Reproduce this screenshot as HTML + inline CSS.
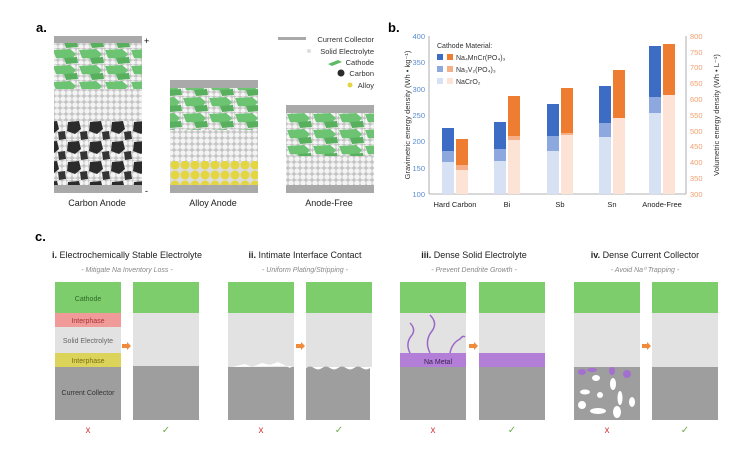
<!DOCTYPE html>
<html><head><meta charset="utf-8"><style>
html,body{margin:0;padding:0;background:#fff;}
svg{display:block;font-family:"Liberation Sans",Arial,sans-serif;}
</style></head><body>
<svg width="754" height="451" viewBox="0 0 754 451" xmlns="http://www.w3.org/2000/svg">
<defs>
<pattern id="balls" width="6" height="6" patternUnits="userSpaceOnUse">
<rect width="6" height="6" fill="#c4c4c4"/>
<circle cx="3" cy="3" r="2.8" fill="#f4f4f4" stroke="#c9c9c9" stroke-width="0.4"/>
</pattern>
<pattern id="carbon" width="22" height="20" patternUnits="userSpaceOnUse">
<rect width="22" height="20" fill="url(#balls)"/>
<polygon points="2,2 13,1 15,9 9,14 1,11" fill="#2b2b2b"/>
<polygon points="14,12 21,11 22,19 15,20" fill="#333"/>
</pattern>
<pattern id="alloy" width="10" height="10" patternUnits="userSpaceOnUse">
<rect width="10" height="10" fill="#dcdcdc"/>
<circle cx="5" cy="5" r="4.5" fill="#e4d640"/>
</pattern>
<pattern id="cath" width="26" height="16" patternUnits="userSpaceOnUse">
<rect width="26" height="16" fill="url(#balls)"/>
<polygon points="1,2 18,1 24,6 20,11 4,10" fill="#6cc472"/>
<polygon points="12,10 25,9 26,15 14,16" fill="#58b05e"/>
</pattern>
</defs>

<text x="36" y="32" font-size="13" font-weight="bold">a.</text>
<rect x="54" y="36" width="88" height="7" fill="#a9a9a9"/>
<rect x="54" y="43" width="88" height="46" fill="url(#cath)"/>
<rect x="54" y="89" width="88" height="32" fill="url(#balls)"/>
<rect x="54" y="121" width="88" height="64" fill="url(#carbon)"/>
<rect x="54" y="185" width="88" height="8" fill="#a9a9a9"/>
<text x="144" y="44" font-size="9">+</text>
<text x="145" y="194" font-size="9">-</text>
<text x="97" y="206" font-size="9" text-anchor="middle" fill="#222">Carbon Anode</text>

<rect x="170" y="80" width="88" height="8" fill="#a9a9a9"/>
<rect x="170" y="88" width="88" height="42" fill="url(#cath)"/>
<rect x="170" y="130" width="88" height="31" fill="url(#balls)"/>
<rect x="170" y="161" width="88" height="24" fill="url(#alloy)"/>
<rect x="170" y="185" width="88" height="8" fill="#a9a9a9"/>
<text x="213" y="206" font-size="9" text-anchor="middle" fill="#222">Alloy Anode</text>

<rect x="286" y="105" width="88" height="8" fill="#a9a9a9"/>
<rect x="286" y="113" width="88" height="43" fill="url(#cath)"/>
<rect x="286" y="156" width="88" height="29" fill="url(#balls)"/>
<rect x="286" y="185" width="88" height="8" fill="#a9a9a9"/>
<text x="329" y="206" font-size="9" text-anchor="middle" fill="#222">Anode-Free</text>

<g font-size="7.5" fill="#333" text-anchor="end">
<rect x="278" y="37" width="28" height="3" fill="#a9a9a9"/>
<text x="374" y="42">Current Collector</text>
<circle cx="309" cy="51" r="2" fill="#ddd"/>
<text x="374" y="54">Solid Electrolyte</text>
<polygon points="328,64 338,60 342,62 332,66" fill="#5dbb63"/>
<text x="374" y="65">Cathode</text>
<circle cx="341" cy="73" r="3.5" fill="#2b2b2b"/>
<text x="374" y="76">Carbon</text>
<circle cx="350" cy="85" r="2.5" fill="#e4d640"/>
<text x="374" y="88">Alloy</text>
</g>

<text x="388" y="32" font-size="13" font-weight="bold">b.</text>
<line x1="429" y1="36" x2="429" y2="194" stroke="#999" stroke-width="0.8"/>
<line x1="686" y1="36" x2="686" y2="194" stroke="#999" stroke-width="0.8"/>
<line x1="429" y1="194" x2="686" y2="194" stroke="#999" stroke-width="0.8"/>
<g font-size="7.5" fill="#5a8bd0" text-anchor="end">
<text x="425" y="197">100</text><text x="425" y="171">150</text><text x="425" y="144">200</text>
<text x="425" y="118">250</text><text x="425" y="92">300</text><text x="425" y="65">350</text><text x="425" y="39">400</text>
</g>
<g font-size="7.5" fill="#f0a070">
<text x="690" y="197">300</text><text x="690" y="181">350</text><text x="690" y="165">400</text>
<text x="690" y="149">450</text><text x="690" y="134">500</text><text x="690" y="118">550</text>
<text x="690" y="102">600</text><text x="690" y="86">650</text><text x="690" y="70">700</text>
<text x="690" y="55">750</text><text x="690" y="39">800</text>
</g>
<text transform="translate(410,115) rotate(-90)" font-size="7.5" text-anchor="middle" fill="#333">Gravimetric energy density (Wh • kg⁻¹)</text>
<text transform="translate(719,115) rotate(-90)" font-size="7.5" text-anchor="middle" fill="#333">Volumetric energy density (Wh • L⁻¹)</text>
<g font-size="7.5" fill="#222" text-anchor="middle">
<text x="455" y="207">Hard Carbon</text><text x="507" y="207">Bi</text><text x="560" y="207">Sb</text>
<text x="612" y="207">Sn</text><text x="662" y="207">Anode-Free</text>
</g>
<g>
<rect x="442" y="128" width="12" height="23" fill="#3d6cc4"/><rect x="442" y="151" width="12" height="11" fill="#8ca8de"/><rect x="442" y="162" width="12" height="32" fill="#d6e1f3"/>
<rect x="456" y="139" width="12" height="26" fill="#ef7d31"/><rect x="456" y="165" width="12" height="5" fill="#f5b08a"/><rect x="456" y="170" width="12" height="24" fill="#fce3d5"/>
<rect x="494" y="122" width="12" height="27" fill="#3d6cc4"/><rect x="494" y="149" width="12" height="12" fill="#8ca8de"/><rect x="494" y="161" width="12" height="33" fill="#d6e1f3"/>
<rect x="508" y="96" width="12" height="40" fill="#ef7d31"/><rect x="508" y="136" width="12" height="4" fill="#f5b08a"/><rect x="508" y="140" width="12" height="54" fill="#fce3d5"/>
<rect x="547" y="104" width="12" height="32" fill="#3d6cc4"/><rect x="547" y="136" width="12" height="15" fill="#8ca8de"/><rect x="547" y="151" width="12" height="43" fill="#d6e1f3"/>
<rect x="561" y="88" width="12" height="45" fill="#ef7d31"/><rect x="561" y="133" width="12" height="2" fill="#f5b08a"/><rect x="561" y="135" width="12" height="59" fill="#fce3d5"/>
<rect x="599" y="86" width="12" height="37" fill="#3d6cc4"/><rect x="599" y="123" width="12" height="14" fill="#8ca8de"/><rect x="599" y="137" width="12" height="57" fill="#d6e1f3"/>
<rect x="613" y="70" width="12" height="48" fill="#ef7d31"/><rect x="613" y="118" width="12" height="76" fill="#fce3d5"/>
<rect x="649" y="46" width="12" height="51" fill="#3d6cc4"/><rect x="649" y="97" width="12" height="16" fill="#8ca8de"/><rect x="649" y="113" width="12" height="81" fill="#d6e1f3"/>
<rect x="663" y="44" width="12" height="51" fill="#ef7d31"/><rect x="663" y="95" width="12" height="99" fill="#fce3d5"/>
</g>
<g font-size="7" fill="#333">
<text x="437" y="48">Cathode Material:</text>
<rect x="437" y="54" width="6" height="6" fill="#3d6cc4"/><rect x="447" y="54" width="6" height="6" fill="#ef7d31"/><text x="456" y="60">Na₄MnCr(PO₄)₃</text>
<rect x="437" y="66" width="6" height="6" fill="#8ca8de"/><rect x="447" y="66" width="6" height="6" fill="#f5b08a"/><text x="456" y="72">Na₃V₂(PO₄)₃</text>
<rect x="437" y="78" width="6" height="6" fill="#d6e1f3"/><rect x="447" y="78" width="6" height="6" fill="#fce3d5"/><text x="456" y="84">NaCrO₂</text>
</g>

<text x="35" y="241" font-size="13" font-weight="bold">c.</text>
<g font-size="9" fill="#222" text-anchor="middle">
<text x="127" y="258"><tspan font-weight="bold">i.</tspan> Electrochemically Stable Electrolyte</text>
<text x="305" y="258"><tspan font-weight="bold">ii.</tspan> Intimate Interface Contact</text>
<text x="474" y="258"><tspan font-weight="bold">iii.</tspan> Dense Solid Electrolyte</text>
<text x="645" y="258"><tspan font-weight="bold">iv.</tspan> Dense Current Collector</text>
</g>
<g font-size="7" fill="#888" font-style="italic" text-anchor="middle">
<text x="127" y="272">- Mitigate Na Inventory Loss -</text>
<text x="305" y="272">- Uniform Plating/Stripping -</text>
<text x="474" y="272">- Prevent Dendrite Growth -</text>
<text x="645" y="272">- Avoid Na⁰ Trapping -</text>
</g>
<g>
<rect x="55" y="282" width="66" height="31" fill="#7dcd6c"/>
<rect x="55" y="313" width="66" height="14" fill="#f19a9a"/>
<rect x="55" y="327" width="66" height="26" fill="#e2e2e2"/>
<rect x="55" y="353" width="66" height="14" fill="#dcd45a"/>
<rect x="55" y="367" width="66" height="53" fill="#9e9e9e"/>
<g font-size="7" text-anchor="middle">
<text x="88" y="301" fill="#2f6b2a">Cathode</text>
<text x="88" y="323" fill="#a33">Interphase</text>
<text x="88" y="343" fill="#666">Solid Electrolyte</text>
<text x="88" y="363" fill="#776f10">Interphase</text>
<text x="88" y="395" fill="#333">Current Collector</text>
</g>
<rect x="133" y="282" width="66" height="31" fill="#7dcd6c"/>
<rect x="133" y="313" width="66" height="53" fill="#e2e2e2"/>
<rect x="133" y="366" width="66" height="54" fill="#9e9e9e"/>
<rect x="228" y="282" width="66" height="31" fill="#7dcd6c"/>
<rect x="228" y="313" width="66" height="54" fill="#e2e2e2"/>
<rect x="228" y="367" width="66" height="53" fill="#9e9e9e"/>
<polygon points="232,367 245,364 252,367 262,363 270,365 278,362 290,368 292,366" fill="#fff"/>
<rect x="306" y="282" width="66" height="31" fill="#7dcd6c"/>
<rect x="306" y="313" width="66" height="54" fill="#e2e2e2"/>
<path d="M306,368 q4,-3 8,0 t8,0 t8,0 t8,0 t8,0 t8,0 t8,0 t8,0 V420 H306 Z" fill="#9e9e9e"/>
<rect x="400" y="282" width="66" height="31" fill="#7dcd6c"/>
<rect x="400" y="313" width="66" height="40" fill="#e2e2e2"/>
<rect x="400" y="353" width="66" height="14" fill="#b27ed8"/>
<rect x="400" y="367" width="66" height="53" fill="#9e9e9e"/>
<g stroke="#9d67c8" stroke-width="1.5" fill="none">
<path d="M410,353 q-5,-10 2,-18 q4,-6 -2,-12"/>
<path d="M430,353 q-6,-12 2,-22 q6,-8 -2,-16"/>
<path d="M450,353 q2,-10 10,-14 q3,-4 5,-2"/>
</g>
<text x="424" y="364" font-size="7" fill="#3a2250">Na Metal</text>
<rect x="479" y="282" width="66" height="31" fill="#7dcd6c"/>
<rect x="479" y="313" width="66" height="40" fill="#e2e2e2"/>
<rect x="479" y="353" width="66" height="14" fill="#b27ed8"/>
<rect x="479" y="367" width="66" height="53" fill="#9e9e9e"/>
<rect x="574" y="282" width="66" height="31" fill="#7dcd6c"/>
<rect x="574" y="313" width="66" height="54" fill="#e2e2e2"/>
<rect x="574" y="367" width="66" height="53" fill="#9e9e9e"/>
<g fill="#fff">
<ellipse cx="596" cy="378" rx="4" ry="3"/><ellipse cx="613" cy="384" rx="3" ry="6"/>
<ellipse cx="585" cy="392" rx="5" ry="2.5"/><ellipse cx="600" cy="395" rx="3" ry="3"/>
<ellipse cx="620" cy="398" rx="2.5" ry="7"/><ellipse cx="582" cy="405" rx="4" ry="4"/>
<ellipse cx="598" cy="411" rx="8" ry="3"/><ellipse cx="617" cy="412" rx="4" ry="6"/><ellipse cx="632" cy="402" rx="3" ry="5"/>
</g>
<g fill="#a36fd0">
<ellipse cx="582" cy="372" rx="4" ry="3"/><ellipse cx="592" cy="370" rx="5" ry="2"/>
<ellipse cx="612" cy="371" rx="3" ry="4"/><ellipse cx="627" cy="374" rx="4" ry="4"/>
</g>
<rect x="652" y="282" width="66" height="31" fill="#7dcd6c"/>
<rect x="652" y="313" width="66" height="54" fill="#e2e2e2"/>
<rect x="652" y="367" width="66" height="53" fill="#9e9e9e"/>
</g>
<g fill="#f08a3c">
<polygon points="122,344 127,344 127,342 131,346 127,350 127,348 122,348"/>
<polygon points="296,344 301,344 301,342 305,346 301,350 301,348 296,348"/>
<polygon points="469,344 474,344 474,342 478,346 474,350 474,348 469,348"/>
<polygon points="642,344 647,344 647,342 651,346 647,350 647,348 642,348"/>
</g>
<g font-size="10" text-anchor="middle">
<text x="88" y="433" fill="#d04040">x</text><text x="166" y="433" fill="#6ab04c">✓</text>
<text x="261" y="433" fill="#d04040">x</text><text x="339" y="433" fill="#6ab04c">✓</text>
<text x="433" y="433" fill="#d04040">x</text><text x="512" y="433" fill="#6ab04c">✓</text>
<text x="607" y="433" fill="#d04040">x</text><text x="685" y="433" fill="#6ab04c">✓</text>
</g>
</svg>
</body></html>
